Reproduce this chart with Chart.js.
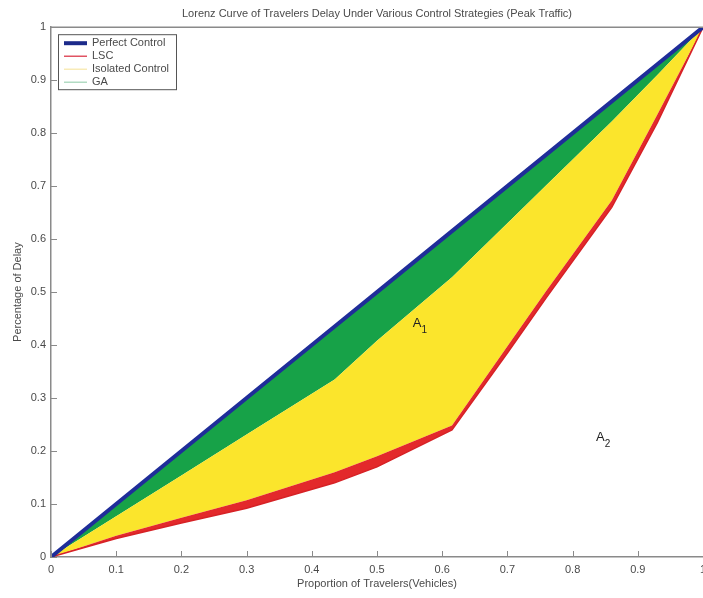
<!DOCTYPE html>
<html>
<head>
<meta charset="utf-8">
<script src="https://cdn.jsdelivr.net/npm/chart.js@4/dist/chart.umd.min.js"></script>
<style>
  html, body { margin: 0; padding: 0; background: #fff; }
</style>
</head>
<body>
<canvas id="lorenzChart" width="703" height="598"></canvas>
<script>
// Lorenz curve data
const proportion = [0, 0.1, 0.2, 0.3, 0.435, 0.5, 0.615, 0.7, 0.76, 0.86, 0.93, 1];
const perfectControl = [0, 0.1, 0.2, 0.3, 0.435, 0.5, 0.615, 0.7, 0.76, 0.86, 0.93, 1];
const lscDelay = [0, 0.035, 0.064, 0.092, 0.14, 0.17, 0.24, 0.385, 0.49, 0.66, 0.82, 1];
const isolatedDelay = [0, 0.04, 0.074, 0.107, 0.16, 0.19, 0.248, 0.398, 0.503, 0.673, 0.835, 1];
const gaDelay = [0, 0.077, 0.154, 0.231, 0.335, 0.408, 0.528, 0.63, 0.702, 0.822, 0.91, 1];

const areaLabels = [
  { name: 'A', sub: '1', x: 0.555, y: 0.44 },
  { name: 'A', sub: '2', x: 0.836, y: 0.225 }
];

const FONT = "'Liberation Sans', Arial, sans-serif";
const AXIS_GRAY = '#8a8a8a';
const TEXT_GRAY = '#4a4a4a';

function toPoints(ys) {
  return proportion.map((x, i) => ({ x: x, y: ys[i] }));
}

function tickText(v) {
  return String(Math.round(v * 10) / 10);
}

// inward tick marks + top box line
const axisBoxPlugin = {
  id: 'axisBox',
  afterDatasetsDraw(chart) {
    const { ctx, chartArea: a, scales: { x, y } } = chart;
    ctx.save();
    ctx.strokeStyle = AXIS_GRAY;
    ctx.lineWidth = 1;
    ctx.beginPath();
    x.ticks.forEach(t => {
      const px = Math.round(x.getPixelForValue(t.value)) + 0.5;
      ctx.moveTo(px, a.bottom); ctx.lineTo(px, a.bottom - 6);
    });
    y.ticks.forEach(t => {
      const py = Math.round(y.getPixelForValue(t.value)) + 0.5;
      ctx.moveTo(a.left, py); ctx.lineTo(a.left + 6, py);
    });
    ctx.stroke();
    ctx.lineWidth = 1.5;
    ctx.beginPath();
    ctx.moveTo(a.left, a.top); ctx.lineTo(a.right, a.top);
    ctx.stroke();
    ctx.restore();
  }
};

// A1 / A2 area labels
const areaLabelPlugin = {
  id: 'areaLabels',
  afterDatasetsDraw(chart) {
    const { ctx, scales: { x, y } } = chart;
    ctx.save();
    ctx.fillStyle = '#222';
    ctx.textBaseline = 'middle';
    ctx.textAlign = 'left';
    areaLabels.forEach(l => {
      const px = x.getPixelForValue(l.x);
      const py = y.getPixelForValue(l.y);
      ctx.font = '13px ' + FONT;
      ctx.fillText(l.name, px, py);
      const w = ctx.measureText(l.name).width;
      ctx.font = '10px ' + FONT;
      ctx.fillText(l.sub, px + w, py + 6);
    });
    ctx.restore();
  }
};

// boxed legend in the top-left corner, like the original
const boxLegendPlugin = {
  id: 'boxLegend',
  afterDraw(chart) {
    const { ctx, chartArea: a } = chart;
    const items = chart.data.datasets;
    const left = a.left + 7, top = a.top + 7;
    const rowH = 13, w = 118, h = items.length * rowH + 3;
    ctx.save();
    ctx.fillStyle = '#fff';
    ctx.fillRect(left, top, w, h);
    ctx.strokeStyle = '#555';
    ctx.lineWidth = 1;
    ctx.strokeRect(left + 0.5, top + 0.5, w, h);
    ctx.font = '11px ' + FONT;
    ctx.textBaseline = 'middle';
    items.forEach((ds, i) => {
      const cy = top + 9 + i * rowH;
      ctx.strokeStyle = ds.legendColor;
      ctx.lineWidth = ds.legendWidth;
      ctx.beginPath();
      ctx.moveTo(left + 6, cy); ctx.lineTo(left + 29, cy);
      ctx.stroke();
      ctx.fillStyle = TEXT_GRAY;
      ctx.fillText(ds.label, left + 34, cy);
    });
    ctx.restore();
  }
};

const ctx = document.getElementById('lorenzChart').getContext('2d');
new Chart(ctx, {
  type: 'line',
  data: {
    datasets: [
      { label: 'Perfect Control', data: toPoints(perfectControl), borderColor: '#1f2d99', borderWidth: 4,
        fill: false, legendColor: '#1c2a8a', legendWidth: 4 },
      { label: 'LSC', data: toPoints(lscDelay), borderColor: '#d62226', borderWidth: 1.5,
        backgroundColor: '#e3292b', fill: 2, legendColor: '#d8283a', legendWidth: 1.2 },
      { label: 'Isolated Control', data: toPoints(isolatedDelay), borderColor: '#fbe52c', borderWidth: 0,
        backgroundColor: '#fbe52c', fill: 3, legendColor: '#f7e6a6', legendWidth: 1.2 },
      { label: 'GA', data: toPoints(gaDelay), borderColor: '#17a248', borderWidth: 0,
        backgroundColor: '#17a248', fill: 0, legendColor: '#9fd2b4', legendWidth: 1.2 }
    ]
  },
  options: {
    responsive: false,
    animation: false,
    layout: { padding: { top: 0, right: 0, bottom: 0, left: 0 } },
    elements: { point: { radius: 0 }, line: { tension: 0 } },
    plugins: {
      legend: { display: false },
      tooltip: { enabled: false },
      title: {
        display: true,
        fullSize: false,
        text: 'Lorenz Curve of Travelers Delay Under Various Control Strategies (Peak Traffic)',
        color: TEXT_GRAY,
        font: { family: FONT, size: 11, weight: 'normal' },
        padding: { top: 7, bottom: 7 }
      }
    },
    scales: {
      x: {
        type: 'linear', min: 0, max: 1,
        ticks: { stepSize: 0.1, padding: 6, color: TEXT_GRAY, maxRotation: 0, autoSkip: false,
                 font: { family: FONT, size: 11 }, callback: tickText },
        grid: { drawOnChartArea: false, drawTicks: false },
        border: { color: AXIS_GRAY, width: 1.5 },
        title: { display: true, text: 'Proportion of Travelers(Vehicles)', color: TEXT_GRAY,
                 font: { family: FONT, size: 11 }, padding: { top: 2, bottom: 7 } },
        afterFit(s) { s.height = 41; s.paddingRight = 0; }
      },
      y: {
        type: 'linear', min: 0, max: 1,
        ticks: { stepSize: 0.1, padding: 5, color: TEXT_GRAY, font: { family: FONT, size: 11 },
                 callback: tickText },
        grid: { drawOnChartArea: false, drawTicks: false },
        border: { color: AXIS_GRAY, width: 1.5 },
        title: { display: true, text: 'Percentage of Delay', color: TEXT_GRAY,
                 font: { family: FONT, size: 11 }, padding: { top: 11, bottom: 2 } },
        afterFit(s) { s.width = 51; }
      }
    }
  },
  plugins: [axisBoxPlugin, areaLabelPlugin, boxLegendPlugin]
});
</script>
</body>
</html>
